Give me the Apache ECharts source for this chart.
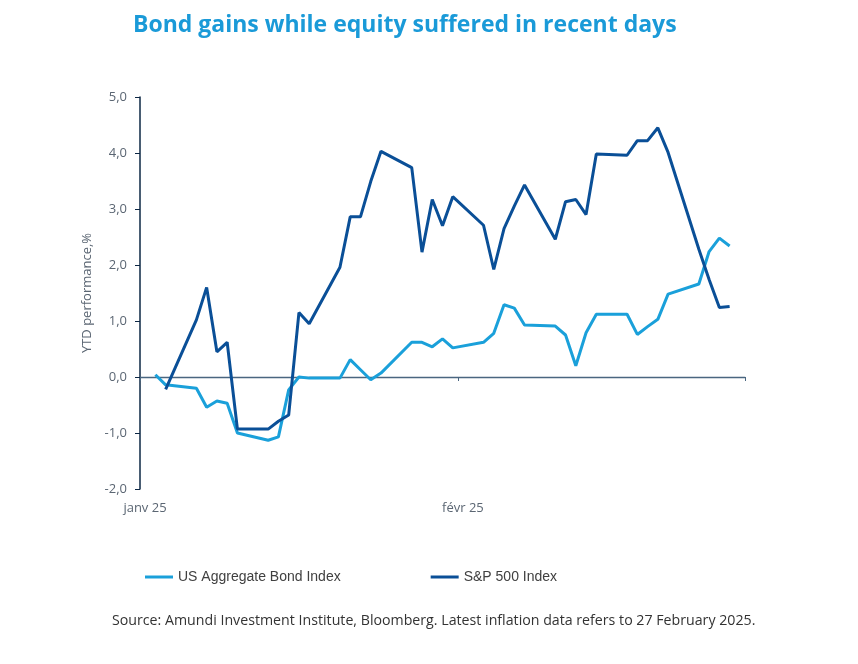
<!DOCTYPE html>
<html>
<head>
<meta charset="utf-8">
<script src="https://cdn.jsdelivr.net/npm/echarts@6/dist/echarts.min.js"></script>
<style>
html,body{margin:0;padding:0;background:#fff;}
#chart{width:858px;height:664px;}
</style>
</head>
<body>
<div id="chart"></div>
<script>
// Trading dates (as plotted)
var dates = [
  '2025-01-02','2025-01-03','2025-01-06','2025-01-07','2025-01-08','2025-01-09','2025-01-10',
  '2025-01-13','2025-01-14','2025-01-15','2025-01-16','2025-01-17',
  '2025-01-20','2025-01-21','2025-01-22','2025-01-23','2025-01-24',
  '2025-01-27','2025-01-28','2025-01-29','2025-01-30','2025-01-31',
  '2025-02-03','2025-02-04','2025-02-05','2025-02-06','2025-02-07',
  '2025-02-10','2025-02-11','2025-02-12','2025-02-13','2025-02-14',
  '2025-02-17','2025-02-18','2025-02-19','2025-02-20','2025-02-21',
  '2025-02-24','2025-02-25','2025-02-26','2025-02-27'
];
var bondValues = [
  0.04,-0.14,-0.20,-0.54,-0.43,-0.47,-1.00,
  -1.13,-1.07,-0.23,0.00,-0.02,
  -0.02,0.31,0.13,-0.05,0.07,
  0.62,0.62,0.54,0.68,0.52,
  0.62,0.78,1.29,1.23,0.93,
  0.91,0.75,0.20,0.79,1.12,
  1.12,0.76,0.90,1.03,1.48,
  1.66,2.24,2.48,2.34
];
var spxValues = [
  null,-0.22,1.02,1.60,0.45,0.62,-0.93,
  -0.93,-0.79,-0.68,1.15,0.95,
  1.96,2.86,2.86,3.49,4.03,
  3.74,2.23,3.17,2.70,3.22,
  2.71,1.92,2.65,3.05,3.43,
  2.46,3.13,3.17,2.90,3.98,
  3.96,4.22,4.22,4.45,4.01,
  2.28,1.74,1.24,1.26
];
var seriesNames = ['US Aggregate Bond Index','S&P 500 Index'];
var monthLabels = ['janv 25','févr 25'];
var yTicks = {min:-2, max:5, interval:1};

function pairs(vals){
  return dates.map(function(d,i){ return [d + 'T12:00:00', vals[i]]; });
}

var chart = echarts.init(document.getElementById('chart'));
var axisGrey = '#5b6673';
chart.setOption({
  animation:false,
  backgroundColor:'#ffffff',
  title:[{
    text:'Bond gains while equity suffered in recent days',
    left:128, top:9,
    textStyle:{fontFamily:'Open Sans', fontWeight:'bold', fontSize:23, color:'#1a9ad8'}
  },{
    text:'Source: Amundi Investment Institute, Bloomberg. Latest inflation data refers to 27 February 2025.',
    left:107, top:609,
    textStyle:{fontFamily:'Open Sans', fontWeight:'normal', fontSize:14.2, color:'#333333'}
  }],
  legend:{
    left:140, top:565,
    itemWidth:28, itemHeight:3, itemGap:90,
    icon:'rect',
    textStyle:{fontFamily:'Liberation Sans', fontSize:14, color:'#404040'},
    data:seriesNames
  },
  grid:{left:140, right:113, top:97, bottom:175},
  xAxis:[{
    type:'time',
    min:'2025-01-01', max:'2025-03-01',
    splitNumber:2,
    minInterval:28*86400000,
    axisLine:{show:true, onZero:true, lineStyle:{color:'#4a6680', width:1.3}},
    axisTick:{show:true, length:4, lineStyle:{color:'#4a6680'}},
    axisLabel:{show:false},
    splitLine:{show:false}
  },{
    type:'time',
    min:'2025-01-01', max:'2025-03-01',
    splitNumber:2,
    minInterval:28*86400000,
    position:'bottom',
    axisLine:{show:false, onZero:false},
    axisTick:{show:false},
    splitLine:{show:false},
    axisLabel:{
      show:true, margin:13, padding:[0,0,0,10],
      fontFamily:'Open Sans', fontSize:13, color:axisGrey,
      showMaxLabel:false,
      formatter:function(v){
        var m = new Date(v).getMonth();
        return monthLabels[m] || '';
      }
    }
  }],
  yAxis:{
    type:'value',
    min:yTicks.min, max:yTicks.max, interval:yTicks.interval,
    name:'YTD performance,%',
    nameLocation:'middle', nameGap:41,
    nameTextStyle:{fontFamily:'Open Sans', fontSize:13, color:axisGrey},
    axisLine:{show:true, lineStyle:{color:'#0d2744', width:1.5}},
    axisTick:{show:true, length:5, lineStyle:{color:'#0d2744'}},
    splitLine:{show:false},
    axisLabel:{
      margin:13, fontFamily:'Open Sans', fontSize:13, color:axisGrey,
      formatter:function(v){ return v.toFixed(1).replace('.',','); }
    }
  },
  series:[{
    name:seriesNames[0], type:'line', xAxisIndex:0,
    data:pairs(bondValues),
    showSymbol:false, symbol:'none',
    lineStyle:{color:'#1aa0da', width:3},
    itemStyle:{color:'#1aa0da'},
    z:2
  },{
    name:seriesNames[1], type:'line', xAxisIndex:0,
    data:pairs(spxValues),
    connectNulls:false,
    showSymbol:false, symbol:'none',
    lineStyle:{color:'#0a4f97', width:3},
    itemStyle:{color:'#0a4f97'},
    z:3
  }]
});
</script>
</body>
</html>
